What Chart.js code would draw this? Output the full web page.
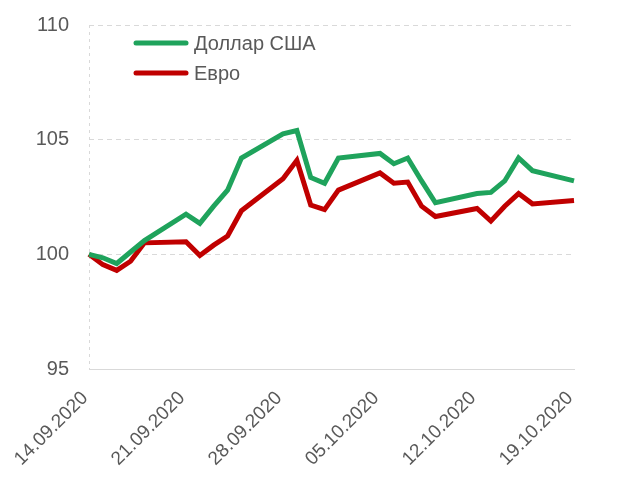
<!DOCTYPE html>
<html>
<head>
<meta charset="utf-8">
<script src="https://cdn.jsdelivr.net/npm/chart.js@4/dist/chart.umd.min.js"></script>
<style>
body { margin: 0; background: #fff; }
</style>
</head>
<body>
<canvas id="chart" width="620" height="482"></canvas>
<script>
// daily dates 14.09 - 19.10, null on weekends
var dates = [
  '14.09.2020','15.09.2020','16.09.2020','17.09.2020','18.09.2020','19.09.2020','20.09.2020',
  '21.09.2020','22.09.2020','23.09.2020','24.09.2020','25.09.2020','26.09.2020','27.09.2020',
  '28.09.2020','29.09.2020','30.09.2020','01.10.2020','02.10.2020','03.10.2020','04.10.2020',
  '05.10.2020','06.10.2020','07.10.2020','08.10.2020','09.10.2020','10.10.2020','11.10.2020',
  '12.10.2020','13.10.2020','14.10.2020','15.10.2020','16.10.2020','17.10.2020','18.10.2020',
  '19.10.2020'
];
var usd = [
  100.0, 99.85, 99.6, 100.1, 100.6, null, null,
  101.75, 101.35, 102.1, 102.8, 104.2, null, null,
  105.25, 105.4, 103.35, 103.1, 104.2, null, null,
  104.4, 103.95, 104.2, 103.2, 102.25, null, null,
  102.65, 102.7, 103.2, 104.2, 103.65, null, null,
  103.2
];
var eur = [
  100.0, 99.55, 99.3, 99.7, 100.5, null, null,
  100.55, 99.95, 100.4, 100.8, 101.9, null, null,
  103.3, 104.1, 102.15, 101.95, 102.8, null, null,
  103.55, 103.1, 103.15, 102.1, 101.65, null, null,
  102.0, 101.45, 102.1, 102.65, 102.2, null, null,
  102.35
];
var seriesNames = ['Доллар США', 'Евро'];
var yTicks = [95, 100, 105, 110];

var textColor = '#595959';
var gridColor = '#d9d9d9';

// legend drawn inside the plot, top left
var insideLegend = {
  id: 'insideLegend',
  afterDraw: function(chart) {
    var ctx = chart.ctx;
    var x0 = chart.chartArea.left + 47;
    var y0 = chart.chartArea.top + 18;
    ctx.save();
    ctx.font = '20px "Liberation Sans", Arial, sans-serif';
    ctx.textBaseline = 'middle';
    chart.data.datasets.forEach(function(ds, i) {
      var y = y0 + i * 30;
      ctx.strokeStyle = ds.borderColor;
      ctx.lineWidth = 5;
      ctx.lineCap = 'round';
      ctx.beginPath();
      ctx.moveTo(x0, y);
      ctx.lineTo(x0 + 50, y);
      ctx.stroke();
      ctx.fillStyle = textColor;
      ctx.fillText(ds.label, x0 + 58, y + 1);
    });
    ctx.restore();
  }
};

new Chart(document.getElementById('chart'), {
  type: 'line',
  data: {
    labels: dates,
    datasets: [
      {
        label: seriesNames[0],
        data: usd,
        borderColor: '#1fa35c',
        borderWidth: 5,
        pointRadius: 0,
        tension: 0,
        spanGaps: true
      },
      {
        label: seriesNames[1],
        data: eur,
        borderColor: '#c00000',
        borderWidth: 5,
        pointRadius: 0,
        tension: 0,
        spanGaps: true
      }
    ]
  },
  options: {
    responsive: false,
    animation: false,
    layout: { padding: { top: 25, right: 46, bottom: 0, left: 0 } },
    plugins: {
      legend: { display: false },
      tooltip: { enabled: false }
    },
    scales: {
      x: {
        offset: false,
        grid: {
          drawTicks: false,
          color: function(c) { return c.index % 7 === 0 ? gridColor : 'transparent'; }
        },
        border: { display: true, color: gridColor, width: 1, dash: [3, 4] },
        ticks: {
          autoSkip: false,
          maxRotation: 45,
          minRotation: 45,
          padding: 18,
          labelOffset: -4,
          color: textColor,
          font: { family: '"Liberation Sans", Arial, sans-serif', size: 19 },
          callback: function(v, i) { return i % 7 === 0 ? dates[i] : null; }
        },
        afterFit: function(s) { s.height = 113; }
      },
      y: {
        min: yTicks[0],
        max: yTicks[yTicks.length - 1],
        afterBuildTicks: function(s) { s.ticks = yTicks.map(function(v) { return { value: v }; }); },
        grid: { drawTicks: false, color: gridColor },
        border: { display: false, dash: [5, 4] },
        ticks: {
          padding: 20,
          color: textColor,
          font: { family: '"Liberation Sans", Arial, sans-serif', size: 20 }
        },
        afterFit: function(s) {
          s.width = 89;
          s.paddingTop = 12;
          s.paddingBottom = 12;
        }
      }
    }
  },
  plugins: [insideLegend]
});
</script>
</body>
</html>
